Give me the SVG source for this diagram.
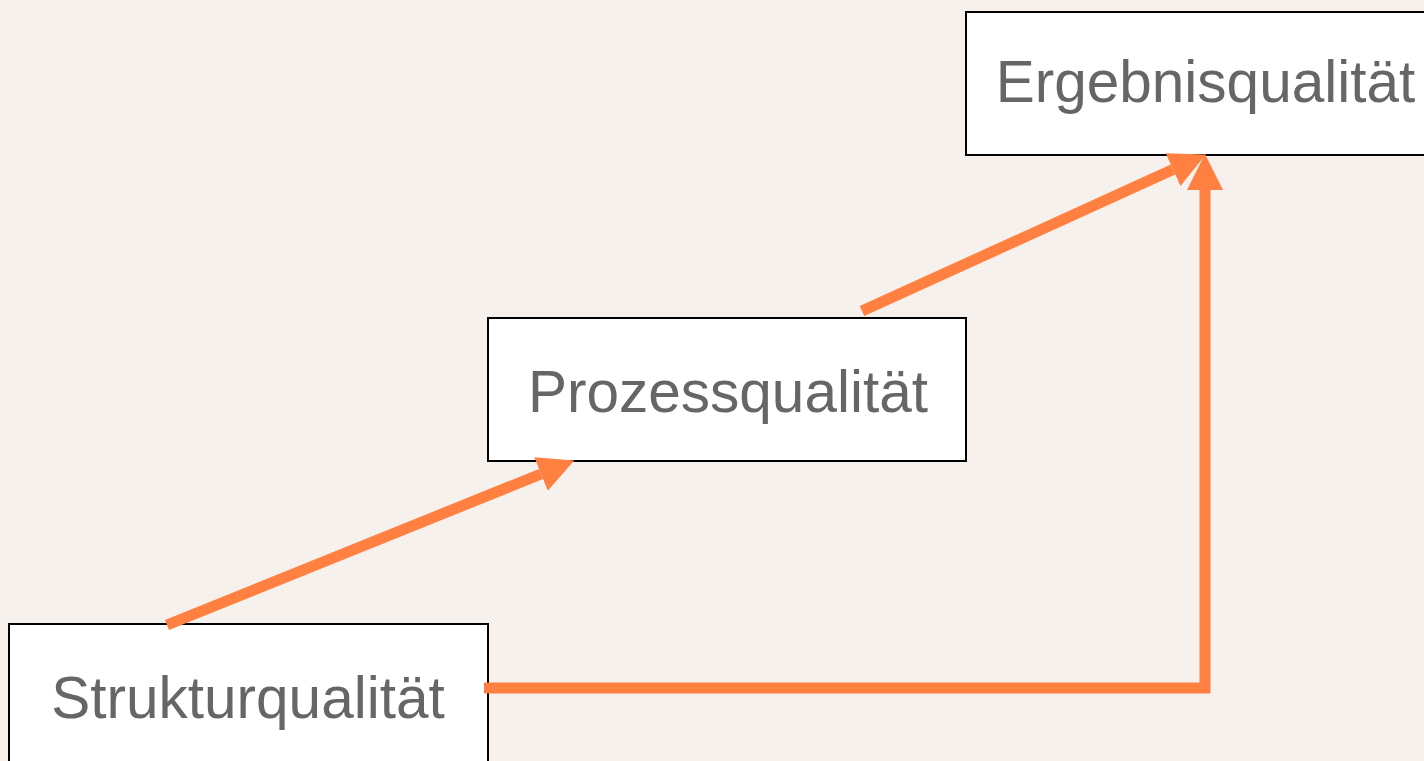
<svg xmlns="http://www.w3.org/2000/svg" width="1424" height="761" viewBox="0 0 1424 761">
<defs>
<style>
.box{fill:#ffffff;stroke:#000000;stroke-width:2}
.lbl{font-family:"Liberation Sans",Arial,sans-serif;font-size:58.5px;fill:#666666;text-anchor:middle}
.conn{fill:none;stroke:#ff8040;stroke-width:11}
</style>
<marker id="ah" markerUnits="userSpaceOnUse" markerWidth="36" markerHeight="36" refX="0" refY="18" orient="auto" viewBox="0 0 36 36">
<path d="M0,0 L36,18 L0,36 z" fill="#ff8040"/>
</marker>
</defs>
<rect width="1424" height="761" fill="#f7f1ee"/>
<g id="ergebnis">
<rect class="box" x="966" y="12" width="478" height="143"/>
<text class="lbl" x="1205.5" y="102">Ergebnisqualität</text>
</g>
<g id="prozess">
<rect class="box" x="488" y="318" width="478" height="143"/>
<text class="lbl" x="728" y="412">Prozessqualität</text>
</g>
<g id="struktur">
<rect class="box" x="9" y="624" width="479" height="160"/>
<text class="lbl" x="248" y="718">Strukturqualität</text>
</g>
<g id="connectors">
<line class="conn" x1="167" y1="625" x2="541" y2="474" marker-end="url(#ah)"/>
<line class="conn" x1="862" y1="311" x2="1173" y2="169.5" marker-end="url(#ah)"/>
<polyline class="conn" points="484,688 1205,688 1205,190" marker-end="url(#ah)"/>
</g>
</svg>
